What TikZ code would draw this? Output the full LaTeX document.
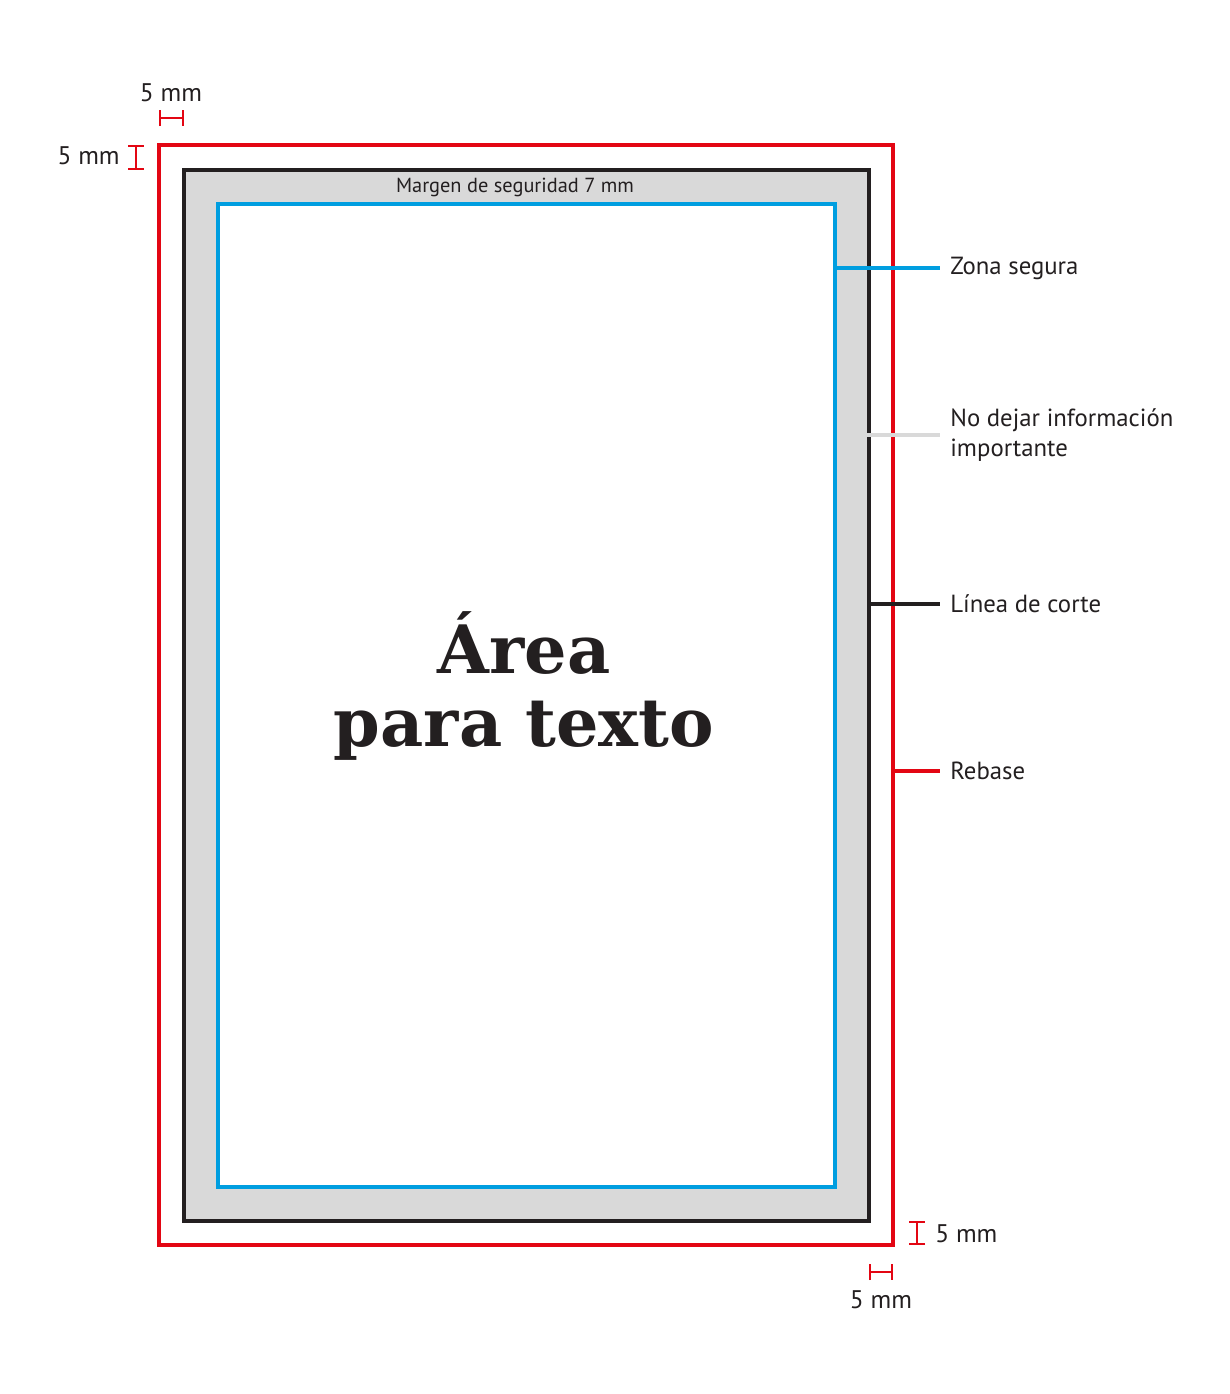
\documentclass[tikz,border=0pt]{standalone}
\usepackage{fontspec}
\setmainfont{PT Sans}
\newfontfamily\titlefont{DejaVu Serif}
\usepackage{tikz}
\usetikzlibrary{arrows.meta}

\definecolor{rebase}{RGB}{227,6,19}
\definecolor{corte}{RGB}{35,31,32}
\definecolor{segura}{RGB}{0,158,224}
\definecolor{margen}{RGB}{217,217,217}

\begin{document}
\begin{tikzpicture}[x=0.02cm,y=-0.02cm,
  leyenda/.style={anchor=west,inner sep=0pt,text=corte,font=\fontsize{14.1}{17}\selectfont},
  medida/.style={inner sep=0pt,text=corte,font=\fontsize{14.5}{17}\selectfont},
  cota/.style={draw=rebase,line width=1.1pt,{Bar[width=0.32cm]}-{Bar[width=0.32cm]}}]
\fill[white] (0,0) rectangle (1230,1394);
\useasboundingbox (0,0) rectangle (1230,1394);
% rectangulos
\draw[rebase,line width=1.8pt] (159,145) rectangle (893,1245);
\draw[corte,fill=margen,line width=2.8pt] (184,170) rectangle (869,1221);
\draw[segura,fill=white,line width=1.8pt] (218,204) rectangle (835,1187);
\node[inner sep=0pt,text=corte,font=\fontsize{11.6}{13}\selectfont] (margen) at (515,187) {Margen de seguridad 7 mm};
\node[align=center,text=corte,font=\titlefont\bfseries\fontsize{38}{41.5}\selectfont] (area) at (524,686) {Área\\para texto};
% leyendas
\coordinate (s0) at (835,268);
\coordinate (m0) at (866,435);
\coordinate (c0) at (869,604);
\coordinate (r0) at (893,771);
\node[leyenda] (zona) at (950,268) {Zona segura};
\node[leyenda,align=left] (nodejar) at (950,435) {No dejar información\\importante};
\node[leyenda] (linea) at (950,604) {Línea de corte};
\node[leyenda] (rebase) at (950,771) {Rebase};
\draw[segura,line width=1.8pt] (s0) -- ([xshift=-0.2cm]zona.west);
\draw[margen,line width=2.4pt] (m0) -- ([xshift=-0.2cm]nodejar.west);
\draw[corte,line width=2.8pt] (c0) -- ([xshift=-0.2cm]linea.west);
\draw[rebase,line width=1.8pt] (r0) -- ([xshift=-0.2cm]rebase.west);
% cotas
\coordinate (ta) at (159,118); \coordinate (tb) at (184,118);
\coordinate (la) at (136,145); \coordinate (lb) at (136,170);
\coordinate (ra) at (917,1221); \coordinate (rb) at (917,1245);
\coordinate (ba) at (869,1272); \coordinate (bb) at (893,1272);
\draw[cota] (ta) -- (tb);
\draw[cota] (la) -- (lb);
\draw[cota] (ra) -- (rb);
\draw[cota] (ba) -- (bb);
\node[medida,anchor=base] (mt) at (171,101) {5 mm};
\node[medida,anchor=base east] (ml) at (120,164) {5 mm};
\node[medida,anchor=base west] (mr) at (935,1242) {5 mm};
\node[medida,anchor=base] (mb) at (881,1308) {5 mm};
\end{tikzpicture}
\end{document}
